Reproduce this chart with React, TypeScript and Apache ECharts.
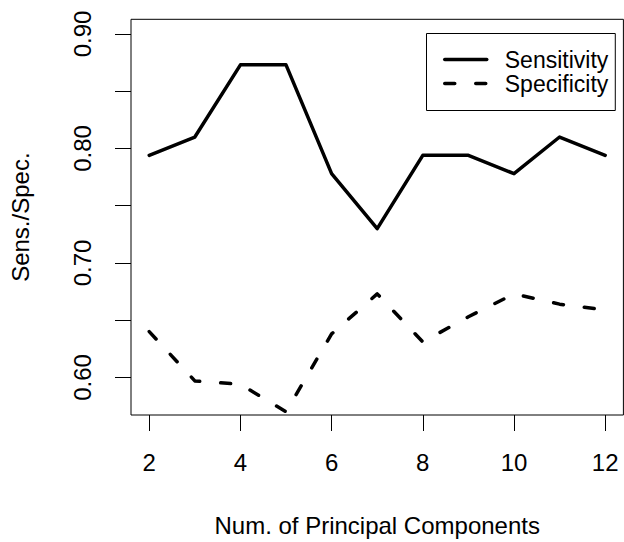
import React, { useEffect, useRef } from "react";
import * as echarts from "echarts";

const components = [2, 3, 4, 5, 6, 7, 8, 9, 10, 11, 12];
const sensitivity = [0.794, 0.81, 0.873, 0.873, 0.778, 0.73, 0.794, 0.794, 0.778, 0.81, 0.794];
const specificity = [0.64, 0.597, 0.594, 0.57, 0.638, 0.673, 0.631, 0.653, 0.673, 0.664, 0.659];
const xTicks = [2, 4, 6, 8, 10, 12];
const yTicks = [0.6, 0.65, 0.7, 0.75, 0.8, 0.85, 0.9];
const yTickLabels = [0.6, 0.7, 0.8, 0.9];

const FONT = '"Liberation Sans", Arial, Helvetica, sans-serif';

export default function App() {
  const ref = useRef<HTMLDivElement>(null);
  useEffect(() => {
    document.body.style.margin = "0";
    const chart = echarts.init(ref.current!, null, { renderer: "svg" });
    const toPairs = (ys: number[]) => components.map((x, i) => [x, ys[i]]);
    chart.setOption({
      animation: false,
      backgroundColor: "#fff",
      textStyle: { fontFamily: FONT, color: "#000" },
      grid: {
        left: 130.7,
        right: 0.6,
        top: 19.3,
        bottom: 127,
        show: true,
        borderColor: "#000",
        borderWidth: 1,
        backgroundColor: "transparent",
      },
      legend: {
        orient: "vertical",
        left: 426.5,
        top: 33.5,
        padding: [14, 7, 15, 16.5],
        itemGap: 0,
        itemWidth: 42,
        itemHeight: 24,
        borderColor: "#000",
        borderWidth: 1,
        backgroundColor: "#fff",
        itemStyle: { color: "rgba(0,0,0,0)", borderColor: "rgba(0,0,0,0)", borderWidth: 0 },
        lineStyle: { width: 3.5, cap: "round" },
        textStyle: {
          fontFamily: FONT,
          fontSize: 23,
          lineHeight: 24,
          color: "#000",
          padding: [0, 0, 0, 13],
        },
        data: ["Sensitivity", "Specificity"],
      },
      xAxis: {
        type: "value",
        min: 1.6,
        max: 12.4,
        name: "Num. of Principal Components",
        nameLocation: "middle",
        nameGap: 98,
        nameTextStyle: { fontFamily: FONT, fontSize: 24, color: "#000" },
        axisLine: { show: false },
        splitLine: { show: false },
        axisTick: {
          show: true,
          inside: false,
          length: 16,
          customValues: xTicks,
          lineStyle: { color: "#000", width: 1 },
        },
        axisLabel: {
          customValues: xTicks,
          margin: 35,
          fontFamily: FONT,
          fontSize: 24,
          color: "#000",
          formatter: (v: number) => String(v),
        },
      },
      yAxis: {
        type: "value",
        min: 0.5672,
        max: 0.9128,
        name: "Sens./Spec.",
        nameLocation: "middle",
        nameRotate: 90,
        nameGap: 99,
        nameTextStyle: { fontFamily: FONT, fontSize: 24, color: "#000" },
        axisLine: { show: false },
        splitLine: { show: false },
        axisTick: {
          show: true,
          inside: false,
          length: 16,
          customValues: yTicks,
          lineStyle: { color: "#000", width: 1 },
        },
        axisLabel: {
          customValues: yTickLabels,
          rotate: 90,
          margin: 37,
          fontFamily: FONT,
          fontSize: 24,
          color: "#000",
          formatter: (v: number) => v.toFixed(2),
        },
      },
      series: [
        {
          name: "Sensitivity",
          type: "line",
          data: toPairs(sensitivity),
          showSymbol: false,
          symbol: "none",
          color: "#000",
          lineStyle: { color: "#000", width: 3.5, cap: "round", join: "round" },
        },
        {
          name: "Specificity",
          type: "line",
          data: toPairs(specificity),
          showSymbol: false,
          symbol: "none",
          color: "#000",
          lineStyle: { color: "#000", width: 3.5, type: [10, 21], cap: "round", join: "round" },
        },
      ],
    });
    return () => chart.dispose();
  }, []);
  return <div ref={ref} style={{ width: 624, height: 542 }} />;
}
